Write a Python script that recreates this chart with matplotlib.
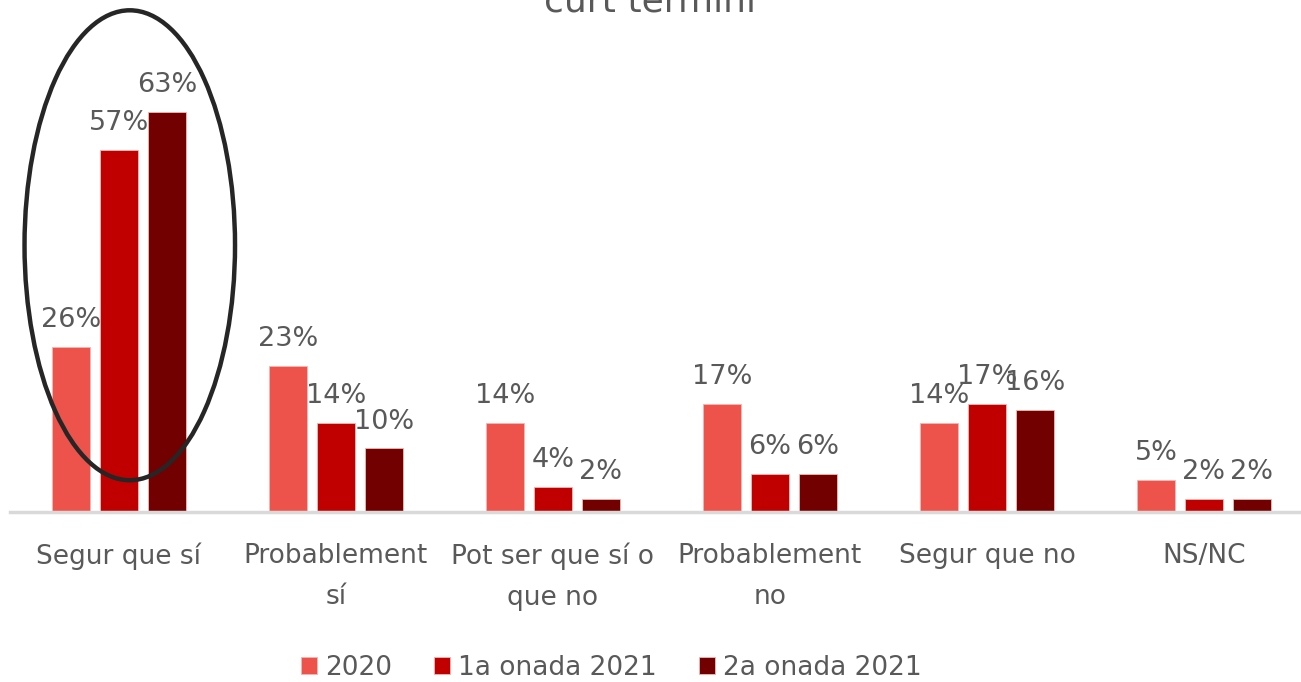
import matplotlib
matplotlib.use("Agg")
import matplotlib.pyplot as plt
from matplotlib.patches import Ellipse
import numpy as np

categories = ["Segur que sí", "Probablement\nsí", "Pot ser que sí o\nque no",
              "Probablement\nno", "Segur que no", "NS/NC"]
series_names = ["2020", "1a onada 2021", "2a onada 2021"]
v2020 = [26, 23, 14, 17, 14, 5]
v2021a = [57, 14, 4, 6, 17, 2]
v2021b = [63, 10, 2, 6, 16, 2]
colors = ["#EE534B", "#C00000", "#730000"]

grey = "#595959"
plt.rcParams["font.family"] = ["DejaVu Sans"]

fig = plt.figure(figsize=(13.01, 6.82), dpi=100)
ax = fig.add_axes([0, 0.2493, 1, 0.6518])

x = np.arange(len(categories))
step = 0.221
width = 0.176
for k, (vals, name, col) in enumerate(zip([v2020, v2021a, v2021b], series_names, colors)):
    pos = x + (k - 1) * step
    ax.bar(pos, vals, width, color=col, label=name, edgecolor="#F4B6B0", linewidth=0.6)
    for p, v in zip(pos, vals):
        ax.annotate(f"{v}%", (p, v), xytext=(0, 10), textcoords="offset points",
                    ha="center", va="bottom", fontsize=19.5, color=grey)

ax.set_xlim(-0.548, 5.447)
ax.set_ylim(0, 70)
for s in ["top", "left", "right"]:
    ax.spines[s].set_visible(False)
ax.spines["bottom"].set_color("#D9D9D9")
ax.spines["bottom"].set_linewidth(2.5)
ax.spines["bottom"].set_bounds(-0.5, 5.5)
ax.set_yticks([])
ax.set_xticks(x)
ax.set_xticklabels(categories, fontsize=19, color=grey, linespacing=1.75)
ax.tick_params(axis="x", length=0, pad=22)

# highlight around the first group
ax.add_patch(Ellipse((0.05, 42), 0.97, 74, fill=False, edgecolor="#262626",
                     linewidth=3.2, clip_on=False, zorder=5))

fig.text(0.5, 0.983, "curt termini", ha="center", va="baseline",
         fontsize=26, color=grey)

fig.legend(loc="lower center", bbox_to_anchor=(0.47, -0.033), ncol=3, frameon=False,
           fontsize=19, labelcolor=grey, handlelength=0.6, handleheight=0.6,
           handletextpad=0.3, columnspacing=1.6)

fig.savefig("out.png", dpi=100)
